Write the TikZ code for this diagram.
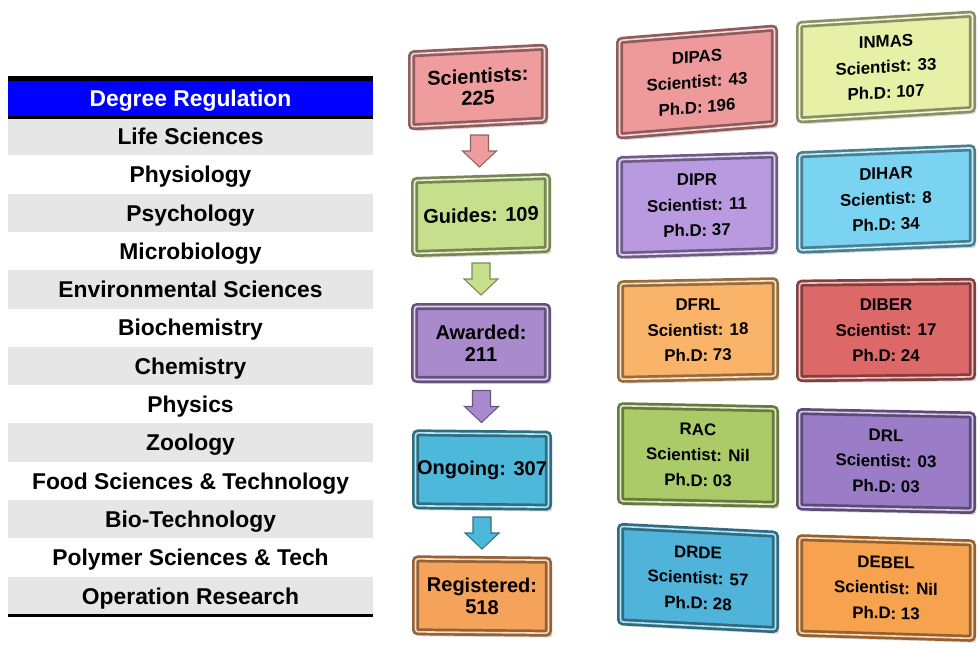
\documentclass[tikz,border=0pt]{standalone}
\usepackage{fontspec}
\setmainfont{Liberation Sans}
\usetikzlibrary{calc,shadows}

\definecolor{headBlue}{HTML}{0000FF}
\definecolor{rowGray}{HTML}{E6E6E6}
\definecolor{sciRed}{HTML}{EE9C9C}
\definecolor{guiGreen}{HTML}{C6DF8C}
\definecolor{awdPurple}{HTML}{A98BCD}
\definecolor{ongCyan}{HTML}{4DB8DA}
\definecolor{regOrange}{HTML}{F5A35A}
\definecolor{dipasRed}{HTML}{EE9A9A}
\definecolor{inmasGreen}{HTML}{E6F0A6}
\definecolor{diprPurple}{HTML}{B99AE0}
\definecolor{diharCyan}{HTML}{7AD3F0}
\definecolor{dfrlOrange}{HTML}{F9B469}
\definecolor{diberRed}{HTML}{DC6868}
\definecolor{racGreen}{HTML}{ABCB68}
\definecolor{drlPurple}{HTML}{9A7DC6}
\definecolor{drdeCyan}{HTML}{4FB3DA}
\definecolor{debelOrange}{HTML}{F7A24E}

\tikzset{
	tabrow/.style={fill=#1, minimum width=7.3cm, minimum height=0.766cm, inner sep=0pt, text height=9.4pt, text depth=0pt, font=\fontsize{13}{15}\selectfont\bfseries},
	bevel/.style={fill=#1, draw=#1!60!black, line width=4pt, rounded corners=1.5pt, drop shadow={shadow xshift=2pt, shadow yshift=-2.5pt, opacity=0.3}, postaction={draw=#1!40!white, line width=0.9pt, rounded corners=1.5pt}, inner sep=0pt, align=center},
	flowbox/.style={bevel=#1, minimum width=2.66cm, minimum height=1.46cm, font=\fontsize{11.4}{12.5}\selectfont\bfseries},
	labbox/.style={bevel=#1, minimum height=1.91cm, font=\fontsize{9.6}{14.5}\selectfont\bfseries},
}
\def\flowarrow(#1)(#2)#3{\coordinate (mid) at ($(#1.south)!0.5!(#2.north)$);
	\draw[fill=#3, draw=#3!62!black, line width=0.6pt] ($(mid)+(-9,-16)$) -- ($(mid)+(9,-16)$) -- ($(mid)+(9,0)$) -- ($(mid)+(17,0)$) -- ($(mid)+(0,16)$) -- ($(mid)+(-17,0)$) -- ($(mid)+(-9,0)$) -- cycle;}

\begin{document}
\begin{tikzpicture}[x=0.02cm, y=-0.02cm]
			%%%%% START %%%%%
			\useasboundingbox (0, 0) rectangle (979, 647);
			
			% degree table
			\node[tabrow=headBlue, text=white] (head) at (190.5, 98) {Degree Regulation};
			\node[tabrow=rowGray] (life) at (190.5, 136.2) {Life Sciences};
			\node[tabrow=white] (physio) at (190.5, 174.5) {Physiology};
			\node[tabrow=rowGray] (psych) at (190.5, 212.8) {Psychology};
			\node[tabrow=white] (micro) at (190.5, 251.1) {Microbiology};
			\node[tabrow=rowGray] (envir) at (190.5, 289.4) {Environmental Sciences};
			\node[tabrow=white] (biochem) at (190.5, 327.7) {Biochemistry};
			\node[tabrow=rowGray] (chem) at (190.5, 366.0) {Chemistry};
			\node[tabrow=white] (phys) at (190.5, 404.3) {Physics};
			\node[tabrow=rowGray] (zoo) at (190.5, 442.6) {Zoology};
			\node[tabrow=white] (food) at (190.5, 480.9) {Food Sciences \& Technology};
			\node[tabrow=rowGray] (biotech) at (190.5, 519.2) {Bio-Technology};
			\node[tabrow=white] (poly) at (190.5, 557.5) {Polymer Sciences \& Tech};
			\node[tabrow=rowGray] (oper) at (190.5, 595.8) {Operation Research};
			\draw[line width=2.5pt] (head.north west) -- (head.north east);
			\draw[line width=1.2pt] (head.south west) -- (head.south east);
			\draw[line width=1.5pt] (oper.south west) -- (oper.south east);
			
			% flow column
			\node[flowbox=sciRed, yslant=0.05] (sci) at (478, 87) {Scientists:\\225};
			\node[flowbox=guiGreen, yslant=0.03] (gui) at (481, 215) {Guides: 109};
			\node[flowbox=awdPurple] (awd) at (481, 343) {Awarded:\\211};
			\node[flowbox=ongCyan, yslant=-0.01] (ong) at (482, 470) {Ongoing: 307};
			\node[flowbox=regOrange, yslant=-0.01] (reg) at (482, 596) {Registered:\\518};
			\flowarrow(sci)(gui){sciRed}
			\flowarrow(gui)(awd){guiGreen}
			\flowarrow(awd)(ong){awdPurple}
			\flowarrow(ong)(reg){ongCyan}
			
			% labs
			\node[labbox=dipasRed, minimum width=3.1cm, yslant=0.08] (dipas) at (697, 82) {DIPAS\\Scientist: 43\\Ph.D: 196};
			\node[labbox=inmasGreen, minimum width=3.46cm, yslant=0.06] (inmas) at (886, 67) {INMAS\\Scientist: 33\\Ph.D: 107};
			\node[labbox=diprPurple, minimum width=3.1cm, yslant=0.03] (dipr) at (697, 205) {DIPR\\Scientist: 11\\Ph.D: 37};
			\node[labbox=diharCyan, minimum width=3.46cm, yslant=0.04] (dihar) at (886, 199) {DIHAR\\Scientist: 8\\Ph.D: 34};
			\node[labbox=dfrlOrange, minimum width=3.1cm, yslant=0.02] (dfrl) at (698, 330) {DFRL\\Scientist: 18\\Ph.D: 73};
			\node[labbox=diberRed, minimum width=3.46cm, yslant=0.01] (diber) at (886, 330) {DIBER\\Scientist: 17\\Ph.D: 24};
			\node[labbox=racGreen, minimum width=3.1cm, yslant=-0.02] (rac) at (698, 455) {RAC\\Scientist: Nil\\Ph.D: 03};
			\node[labbox=drlPurple, minimum width=3.46cm, yslant=-0.02] (drl) at (886, 461) {DRL\\Scientist: 03\\Ph.D: 03};
			\node[labbox=drdeCyan, minimum width=3.1cm, yslant=-0.05] (drde) at (698, 578) {DRDE\\Scientist: 57\\Ph.D: 28};
			\node[labbox=debelOrange, minimum width=3.46cm, yslant=-0.03] (debel) at (886, 588) {DEBEL\\Scientist: Nil\\Ph.D: 13};
			
			%%%%% END %%%%%
\end{tikzpicture}
\end{document}
